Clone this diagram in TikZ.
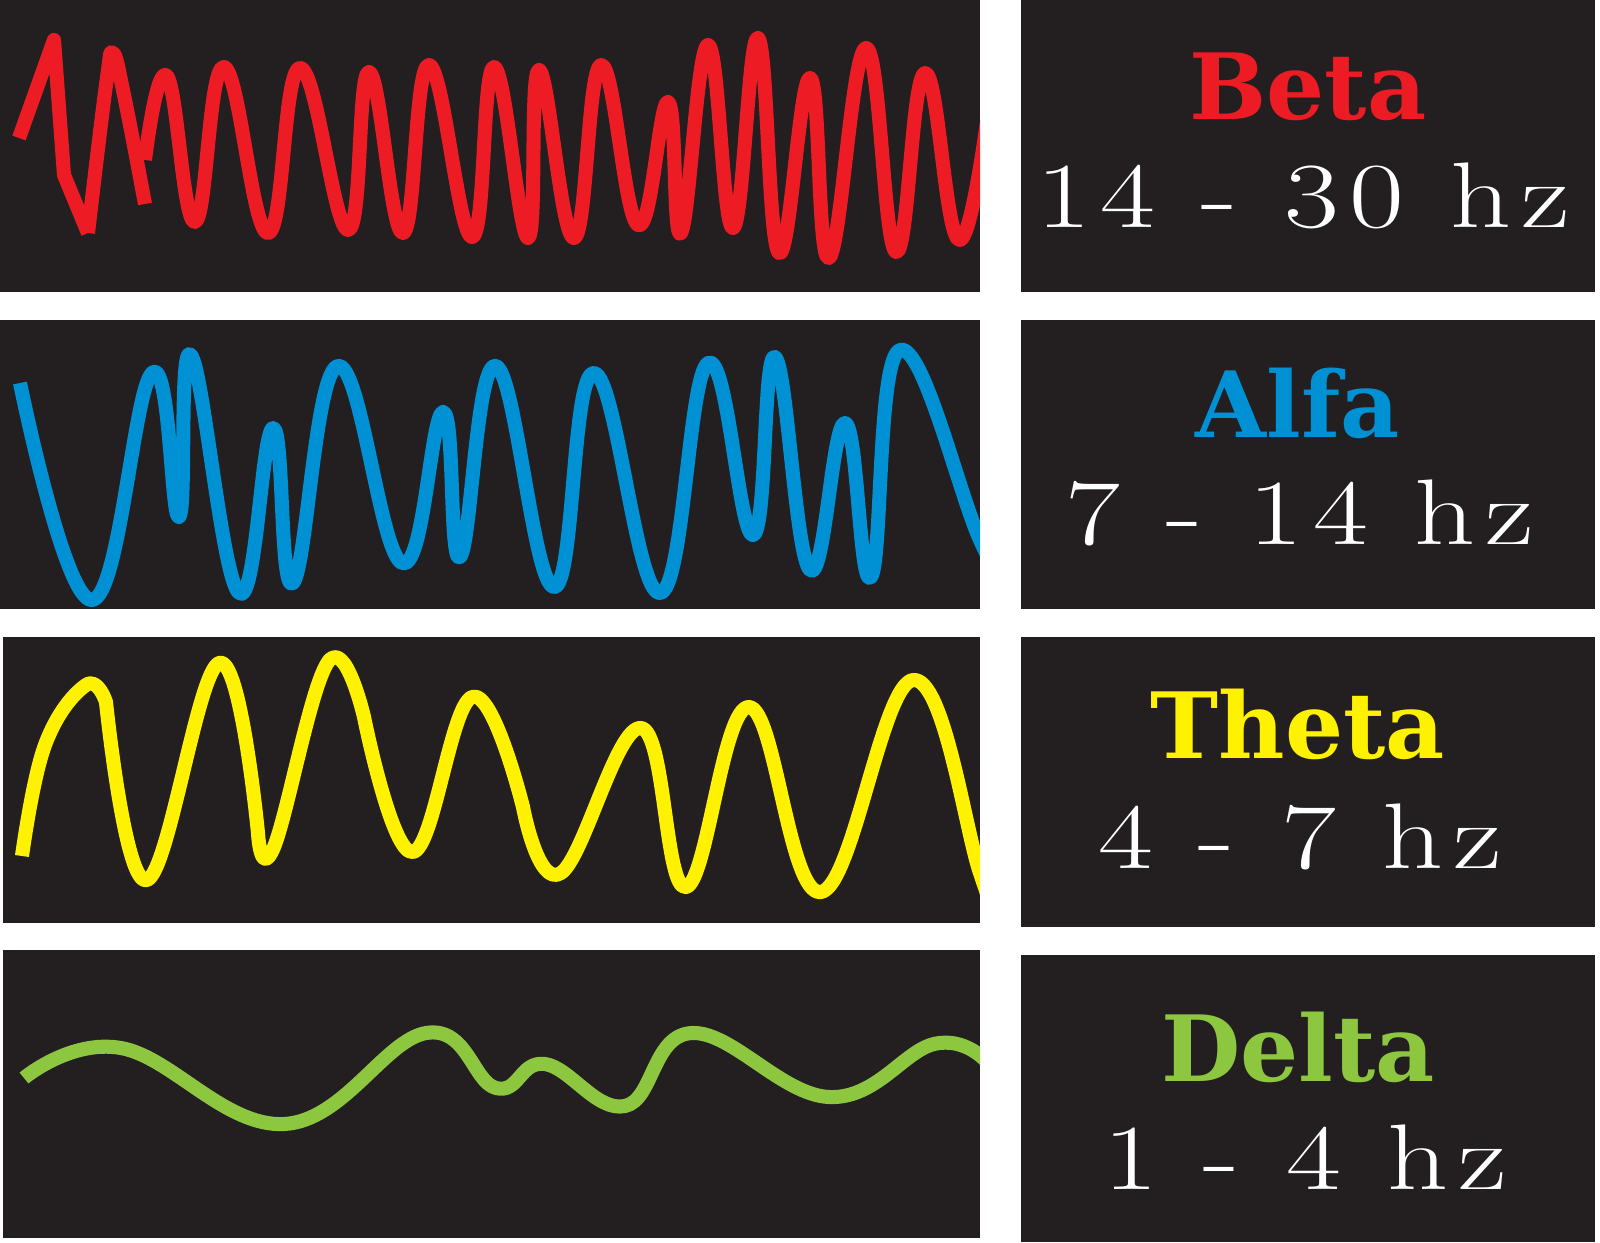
\documentclass[tikz,border=0pt]{standalone}
\usepackage{fontspec}
\newfontfamily\namefont{DejaVu Serif}
\newfontfamily\numfont{Latin Modern Roman}[LetterSpace=11,FakeStretch=1.28]
\definecolor{bk}{HTML}{231F20}
\definecolor{wred}{HTML}{ED1C24}
\definecolor{wblue}{HTML}{0091D5}
\definecolor{wyellow}{HTML}{FFF200}
\definecolor{wgreen}{HTML}{8DC63F}
\begin{document}
\begin{tikzpicture}[x=0.01cm,y=-0.01cm,
  panel/.style={fill=bk},
  wave/.style={line width=4pt, line cap=butt, line join=round},
  nm/.style={anchor=base, inner sep=0pt, font=\namefont\bfseries\fontsize{26}{26}\selectfont},
  num/.style={anchor=base, inner sep=0pt, text=white, font=\numfont\fontsize{26.5}{26.5}\selectfont}]
\useasboundingbox (0,0) rectangle (1600,1242);
\fill[white] (0,0) rectangle (1600,1242);
% panels
\fill[panel] (0,0) rectangle (980,292);
\fill[panel] (0,320) rectangle (980,609);
\fill[panel] (3,637) rectangle (980,923);
\fill[panel] (3,950) rectangle (980,1238);
\fill[panel] (1021,0) rectangle (1595,292);
\fill[panel] (1021,320) rectangle (1595,609);
\fill[panel] (1021,637) rectangle (1595,927);
\fill[panel] (1021,955) rectangle (1595,1242);
% Beta wave
\begin{scope}
\clip (0,0) rectangle (980,292);
\draw[wave,wred] (19,138) -- (54,40) -- (64,175) -- (88,233);
\draw[wave,wred] plot[smooth,tension=0.7] coordinates {(88,233) (106,85) (113,53) (124,95) (145,204)};
\draw[wave,wred] plot[smooth,tension=0.75] coordinates {(145,160) (167,76) (195,222) (224,67) (268,233) (300,68) (348,230) (369,72) (403,233) (429,65) (472,237) (494,67) (528,238) (539,70) (574,238) (601,65) (638,225) (668,102) (681,233) (708,45) (733,228) (758,38) (779,253) (810,78) (829,258) (866,48) (896,252) (925,73) (960,240) (995,60)};
\end{scope}
% Alfa wave
\begin{scope}
\clip (0,320) rectangle (980,609);
\draw[wave,wblue] plot[smooth,tension=0.75] coordinates {(20,383) (92,600) (152,373) (179,517) (191,355) (239,593) (273,428) (293,583) (338,366) (402,563) (443,412) (460,557) (496,366) (554,587) (594,373) (660,593) (708,363) (753,535) (775,357) (810,570) (845,423) (871,577) (900,350) (980,540) (1000,570)};
\end{scope}
% Theta wave
\begin{scope}
\clip (3,637) rectangle (980,923);
\draw[wave,wyellow]
  plot[smooth,tension=0.7] coordinates {(22,856) (45,745) (86,685) (106,702)}
  -- plot[smooth,tension=0.7] coordinates {(106,702) (147,880) (219,663) (258,833)}
  -- plot[smooth,tension=0.7] coordinates {(258,833) (274,847) (328,662) (364,717)}
  -- plot[smooth,tension=0.7] coordinates {(364,717) (413,852) (472,697) (523,807)}
  -- plot[smooth,tension=0.7] coordinates {(523,807) (561,873) (641,728) (686,887) (749,707) (821,892) (913,680) (980,873) (990,905)};
\end{scope}
% Delta wave
\begin{scope}
\clip (3,950) rectangle (980,1238);
\draw[wave,wgreen] plot[smooth,tension=0.7] coordinates {(24,1078) (121,1048) (284,1124) (426,1033) (496,1088) (545,1064) (625,1106) (692,1033) (829,1097) (934,1044) (985,1060)};
\end{scope}
% labels
\node[nm,text=wred] (beta) at (1308,119) {Beta};
\node[num] (betahz) at (1303,227) {14 - 30 hz};
\node[nm,text=wblue] (alfa) at (1298,437) {Alfa};
\node[num] (alfahz) at (1300,544) {7 - 14 hz};
\node[nm,text=wyellow] (theta) at (1298,758) {Theta};
\node[num] (thetahz) at (1300,868) {4 - 7 hz};
\node[nm,text=wgreen] (delta) at (1298,1081) {Delta};
\node[num] (deltahz) at (1305,1189) {1 - 4 hz};
\end{tikzpicture}
\end{document}
